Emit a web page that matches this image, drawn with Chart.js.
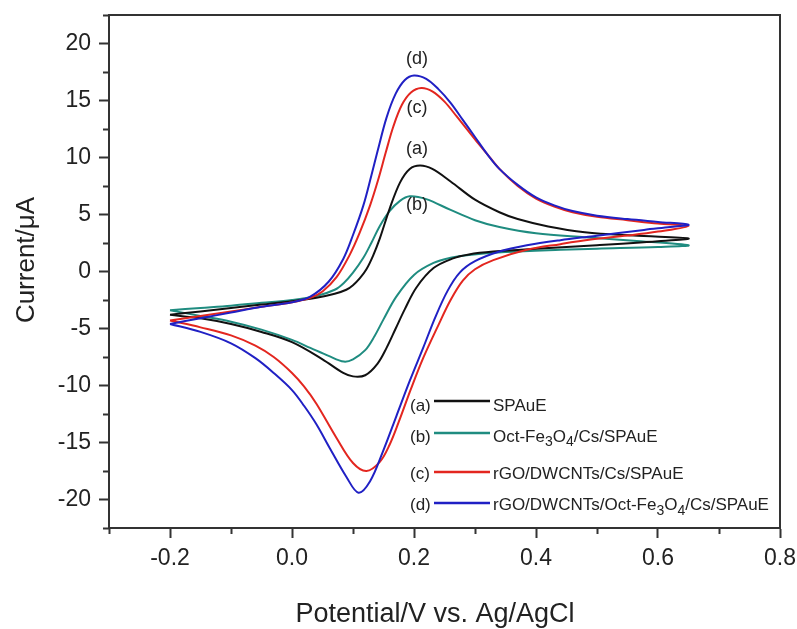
<!DOCTYPE html>
<html>
<head>
<meta charset="utf-8">
<script src="https://cdn.jsdelivr.net/npm/chart.js@4.4.1/dist/chart.umd.min.js"></script>
<style>
  html, body { margin: 0; padding: 0; background: #fff; }
</style>
</head>
<body>
<canvas id="cv" width="797" height="629"></canvas>
<script>
// Each voltammogram: anodic sweep -0.2 -> 0.65 V, then cathodic sweep back to -0.2 V
const potA = [-0.2, -0.15, -0.1, -0.05, 0.0, 0.04, 0.07, 0.089, 0.1, 0.111, 0.122, 0.133, 0.144, 0.16, 0.177, 0.193, 0.21, 0.23, 0.26, 0.3, 0.34, 0.37, 0.42, 0.48, 0.56, 0.65,
              0.6, 0.5, 0.4, 0.33, 0.29, 0.264, 0.232, 0.204, 0.185, 0.17, 0.155, 0.14, 0.12, 0.1, 0.084, 0.05, 0.0, -0.05, -0.1, -0.15, -0.2];
const curA = [-3.8, -3.5, -3.2, -2.9, -2.6, -2.3, -1.95, -1.6, -1.2, -0.6, 0.2, 1.4, 2.9, 5.5, 7.8, 9.0, 9.3, 9.0, 7.9, 6.3, 5.2, 4.6, 3.95, 3.45, 3.15, 2.9,
              2.65, 2.3, 2.0, 1.75, 1.5, 1.15, 0.3, -1.4, -3.3, -5.0, -6.7, -8.1, -9.1, -9.2, -8.9, -7.7, -6.2, -5.3, -4.6, -4.1, -3.8];

const potB = [-0.2, -0.15, -0.1, -0.05, 0.0, 0.04, 0.07, 0.085, 0.1, 0.117, 0.13, 0.144, 0.16, 0.177, 0.193, 0.22, 0.26, 0.3, 0.34, 0.4, 0.48, 0.56, 0.65,
              0.6, 0.5, 0.44, 0.35, 0.29, 0.26, 0.232, 0.2, 0.171, 0.15, 0.135, 0.12, 0.1, 0.085, 0.06, 0.03, 0.0, -0.05, -0.1, -0.15, -0.2];
const curB = [-3.4, -3.2, -3.0, -2.75, -2.5, -2.15, -1.6, -1.0, -0.1, 1.2, 2.5, 4.0, 5.3, 6.2, 6.6, 6.35, 5.4, 4.5, 3.9, 3.35, 3.0, 2.7, 2.3,
              2.15, 2.0, 1.9, 1.7, 1.45, 1.2, 0.75, -0.3, -2.2, -4.2, -5.7, -6.9, -7.7, -7.9, -7.4, -6.7, -6.0, -5.1, -4.4, -3.9, -3.4];

const potC = [-0.2, -0.15, -0.1, -0.05, 0.0, 0.03, 0.05, 0.073, 0.095, 0.111, 0.128, 0.141, 0.154, 0.166, 0.18, 0.195, 0.212, 0.23, 0.25, 0.27, 0.3, 0.32, 0.34, 0.37, 0.4, 0.43, 0.46, 0.5, 0.55, 0.6, 0.65,
              0.6, 0.55, 0.49, 0.44, 0.385, 0.33, 0.3, 0.28, 0.26, 0.24, 0.215, 0.195, 0.175, 0.16, 0.144, 0.122, 0.1, 0.073, 0.04, 0.02, 0.0, -0.03, -0.06, -0.1, -0.15, -0.2];
const curC = [-4.3, -3.9, -3.5, -3.1, -2.7, -2.3, -1.75, -0.5, 1.5, 3.4, 5.8, 8.0, 10.5, 12.7, 14.6, 15.7, 16.1, 15.8, 14.9, 13.6, 11.6, 10.3, 9.0, 7.5, 6.4, 5.7, 5.2, 4.8, 4.5, 4.2, 4.0,
              3.5, 3.15, 2.8, 2.4, 1.9, 1.0, 0.2, -0.8, -2.5, -4.7, -7.6, -10.3, -13.2, -15.2, -16.7, -17.5, -16.8, -14.6, -11.6, -10.1, -8.9, -7.5, -6.5, -5.6, -4.9, -4.3];

const potD = [-0.2, -0.15, -0.1, -0.05, 0.0, 0.03, 0.06, 0.084, 0.1, 0.117, 0.13, 0.14, 0.155, 0.17, 0.185, 0.2, 0.22, 0.24, 0.26, 0.28, 0.3, 0.32, 0.34, 0.37, 0.4, 0.43, 0.46, 0.5, 0.55, 0.6, 0.65,
              0.62, 0.577, 0.494, 0.44, 0.385, 0.34, 0.3, 0.275, 0.255, 0.235, 0.215, 0.193, 0.171, 0.149, 0.128, 0.109, 0.089, 0.062, 0.04, 0.02, 0.0, -0.03, -0.06, -0.1, -0.15, -0.2];
const curD = [-4.6, -4.1, -3.6, -3.1, -2.7, -2.2, -0.9, 1.1, 3.2, 5.8, 8.4, 10.5, 13.5, 15.6, 16.8, 17.2, 16.9, 16.0, 14.8, 13.3, 11.8, 10.3, 9.0, 7.6, 6.5, 5.8, 5.3, 4.9, 4.6, 4.35, 4.1,
              3.9, 3.65, 3.1, 2.75, 2.3, 1.75, 0.9, -0.1, -1.7, -4.0, -6.7, -9.6, -12.7, -15.8, -18.4, -19.4, -18.0, -15.5, -13.4, -11.8, -10.4, -8.9, -7.6, -6.3, -5.3, -4.6];

const seriesTags = ['(a)', '(b)', '(c)', '(d)'];
const seriesNames = ['SPAuE', 'Oct-Fe_3O_4/Cs/SPAuE', 'rGO/DWCNTs/Cs/SPAuE', 'rGO/DWCNTs/Oct-Fe_3O_4/Cs/SPAuE'];

const xMajor = [-0.2, 0.0, 0.2, 0.4, 0.6, 0.8];
const xMinor = [-0.3, -0.1, 0.1, 0.3, 0.5, 0.7];
const yMajor = [-20, -15, -10, -5, 0, 5, 10, 15, 20];
const yMinor = [-22.5, -17.5, -12.5, -7.5, -2.5, 2.5, 7.5, 12.5, 17.5, 22.5];

const xTitle = 'Potential/V vs. Ag/AgCl';
const yTitle = 'Current/μA';

const FONT = '"Liberation Sans", Arial, sans-serif';
const INK = '#222';
const AXIS = '#333';
const colors = ['#111111', '#1f8c80', '#e3261f', '#2020c4'];

Chart.defaults.font.family = FONT;
Chart.defaults.color = INK;

const toPoints = (xs, ys) => xs.map((x, i) => ({ x: x, y: ys[i] }));
const curves = [[potA, curA], [potB, curB], [potC, curC], [potD, curD]];

const datasets = curves.map(([xs, ys], i) => ({
    label: seriesNames[i],
    data: toPoints(xs, ys),
    borderColor: colors[i],
    borderWidth: 2,
    showLine: true,
    pointRadius: 0,
    tension: 0.35,
    fill: false,
    order: [2, 3, 1, 0][i],  // blue on top
}));

const setTicks = (values) => (scale) => { scale.ticks = values.map(v => ({ value: v })); };

// fixed axis box size; drop the label overhang padding so the frame stays put
const fixSize = (w, h) => (scale) => {
    if (w !== null) scale.width = w;
    if (h !== null) scale.height = h;
    scale.paddingTop = scale.paddingBottom = scale.paddingLeft = scale.paddingRight = 0;
};

// peak tags, in data units next to each anodic peak
const peakTagPos = [[0.205, 10.7], [0.205, 5.8], [0.205, 14.3], [0.205, 18.6]];

// legend block in the lower right of the plot
const legendBox = { tagX: 410, lineX0: 434, lineX1: 490, textX: 493, lineY: [401, 433, 472, 503], textY: [406, 437, 474.5, 505.5], size: 17 };

// axis titles sit a little off the plot centre
const titleBox = { xCenter: 435, xMiddle: 615, yCenter: 260, yMiddle: 27 };

const drawRich = (ctx, text, x, y, size) => {
    const parts = text.split(/_(\d)/);
    parts.forEach((part, i) => {
        const sub = i % 2 === 1;
        ctx.font = `${sub ? Math.round(size * 0.8) : size}px ${FONT}`;
        ctx.fillText(part, x, sub ? y + size * 0.32 : y);
        x += ctx.measureText(part).width;
    });
};

const annotations = {
    id: 'cvAnnotations',
    afterDraw(chart) {
        const ctx = chart.ctx;
        ctx.save();
        ctx.fillStyle = INK;
        ctx.textAlign = 'center';
        ctx.textBaseline = 'middle';
        ctx.font = `27px ${FONT}`;
        ctx.fillText(xTitle, titleBox.xCenter, titleBox.xMiddle);
        ctx.font = `26px ${FONT}`;
        ctx.translate(titleBox.yMiddle, titleBox.yCenter);
        ctx.rotate(-Math.PI / 2);
        ctx.fillText(yTitle, 0, 0);
        ctx.restore();
    },
    afterDatasetsDraw(chart) {
        const { ctx, scales: { x, y } } = chart;
        ctx.save();
        ctx.fillStyle = INK;
        ctx.textBaseline = 'middle';

        // tags over the peaks
        ctx.textAlign = 'center';
        ctx.font = `18px ${FONT}`;
        seriesTags.forEach((tag, i) => {
            const [vx, vy] = peakTagPos[i];
            ctx.fillText(tag, x.getPixelForValue(vx), y.getPixelForValue(vy));
        });

        // legend rows
        ctx.textAlign = 'left';
        chart.data.datasets.forEach((ds, i) => {
            ctx.font = `${legendBox.size}px ${FONT}`;
            ctx.fillStyle = INK;
            ctx.fillText(seriesTags[i], legendBox.tagX, legendBox.textY[i]);
            ctx.strokeStyle = ds.borderColor;
            ctx.lineWidth = 2.5;
            ctx.beginPath();
            ctx.moveTo(legendBox.lineX0, legendBox.lineY[i]);
            ctx.lineTo(legendBox.lineX1, legendBox.lineY[i]);
            ctx.stroke();
            drawRich(ctx, ds.label, legendBox.textX, legendBox.textY[i], legendBox.size);
        });
        ctx.restore();
    }
};

const tickFont = { size: 23 };
const tickGrid = { drawOnChartArea: false, tickLength: 10, tickWidth: 2, tickColor: AXIS };
const minorGrid = { drawOnChartArea: false, tickLength: 6, tickWidth: 2, tickColor: AXIS };
const frameOnly = { drawOnChartArea: false, drawTicks: false };

new Chart(document.getElementById('cv'), {
    type: 'scatter',
    data: { datasets },
    options: {
        responsive: false,
        animation: false,
        layout: { autoPadding: false, padding: { top: 15, right: 17, bottom: 0, left: 0 } },
        plugins: { legend: { display: false }, tooltip: { enabled: false } },
        scales: {
            x: {
                type: 'linear', position: 'bottom', min: -0.3, max: 0.8,
                afterBuildTicks: setTicks(xMajor),
                afterFit: fixSize(null, 101),
                ticks: { font: tickFont, padding: 7, callback: (v) => Number(v).toFixed(1) },
                grid: tickGrid,
                border: { color: AXIS, width: 2 },
            },
            y: {
                type: 'linear', position: 'left', min: -22.5, max: 22.5,
                afterBuildTicks: setTicks(yMajor),
                afterFit: fixSize(109, null),
                ticks: { font: tickFont, padding: 8 },
                grid: tickGrid,
                border: { color: AXIS, width: 2 },
            },
            xMinorAxis: {
                type: 'linear', axis: 'x', position: { y: -22.5 }, min: -0.3, max: 0.8,
                afterBuildTicks: setTicks(xMinor),
                afterFit: fixSize(null, null),
                ticks: { display: false },
                grid: minorGrid,
                border: { display: false },
            },
            yMinorAxis: {
                type: 'linear', axis: 'y', position: { x: -0.3 }, min: -22.5, max: 22.5,
                afterBuildTicks: setTicks(yMinor),
                afterFit: fixSize(null, null),
                ticks: { display: false },
                grid: minorGrid,
                border: { display: false },
            },
            xTop: {
                type: 'linear', axis: 'x', position: 'top', min: -0.3, max: 0.8,
                afterFit: fixSize(null, 0),
                ticks: { display: false },
                grid: frameOnly,
                border: { color: AXIS, width: 2 },
            },
            yRight: {
                type: 'linear', axis: 'y', position: 'right', min: -22.5, max: 22.5,
                afterFit: fixSize(0, null),
                ticks: { display: false },
                grid: frameOnly,
                border: { color: AXIS, width: 2 },
            },
        },
    },
    plugins: [annotations],
});
</script>
</body>
</html>
